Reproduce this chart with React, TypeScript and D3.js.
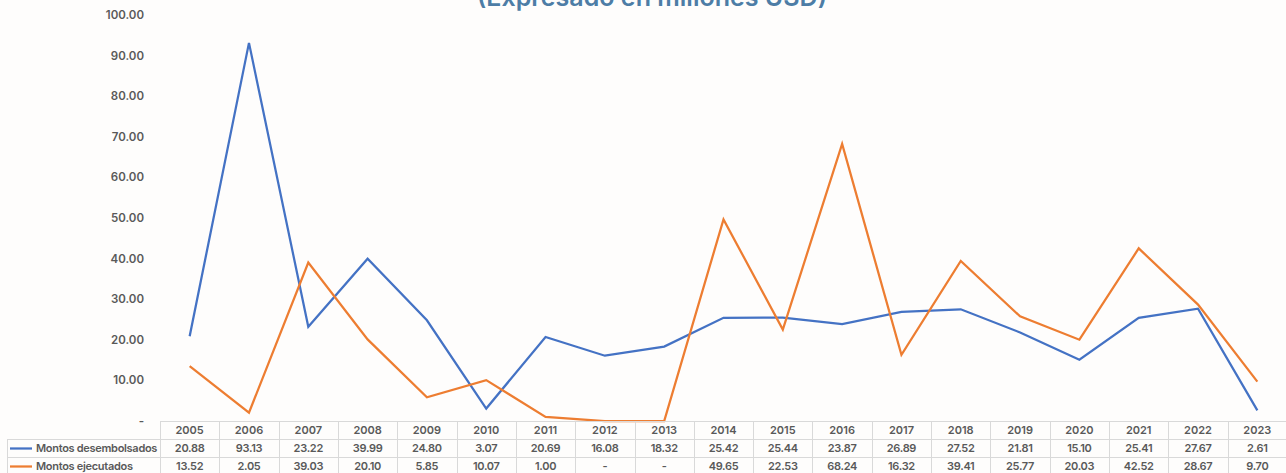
import React from "react";
import * as d3 from "d3";

const years = ["2005","2006","2007","2008","2009","2010","2011","2012","2013","2014","2015","2016","2017","2018","2019","2020","2021","2022","2023"];
const desembolsados = [20.88,93.13,23.22,39.99,24.80,3.07,20.69,16.08,18.32,25.42,25.44,23.87,26.89,27.52,21.81,15.10,25.41,27.67,2.61];
const ejecutados = [13.52,2.05,39.03,20.10,5.85,10.07,1.00,0,0,49.65,22.53,68.24,16.32,39.41,25.77,20.03,42.52,28.67,9.70];
const yTicks = [0,10,20,30,40,50,60,70,80,90,100];
const seriesNames = ["Montos desembolsados","Montos ejecutados"];
const seriesColors = ["#4472C4","#ED7D31"];
const title = "(Expresado en millones USD)";

const W = 1286, H = 473;
const FONT = "Inter, 'Liberation Sans', sans-serif";

export default function App() {
  const x = d3.scaleBand<string>().domain(years).range([160, 1287]).padding(0);
  const bw = x.bandwidth();
  const cx = (y: string) => (x(y) as number) + bw / 2;
  const y = d3.scaleLinear().domain([0, 100]).range([421, 15]);
  const fmt = (v: number) => (v === 0 ? "-" : v.toFixed(2));
  const series = [desembolsados, ejecutados];
  const line = d3.line<number>().x((_, i) => cx(years[i])).y((v) => y(v));
  const tableTop = 421, rowH = 18;
  const rows = [tableTop, tableTop + rowH, tableTop + 2 * rowH];
  const grid = "#d9d9d9";
  const textCol = "#595959";
  return (
    <svg width={W} height={H} style={{ position: "absolute", left: 0, top: 0, background: "#fefdfc" }} fontFamily={FONT}>
      <rect x={0} y={0} width={W} height={H} fill="#fefdfc" />
      <text x={652} y={6} textAnchor="middle" fontSize={25} fontWeight={600} fill="#4d7da6" textLength={350} lengthAdjust="spacingAndGlyphs">{title}</text>
      {yTicks.map((t) => (
        <text key={t} x={144} y={y(t) + 4} textAnchor="end" fontSize={11.5} fontWeight={600} fill={textCol}>
          {t === 0 ? "-" : t.toFixed(2)}
        </text>
      ))}
      {series.map((s, i) => (
        <path key={i} d={line(s) as string} fill="none" stroke={seriesColors[i]} strokeWidth={2.25} strokeLinejoin="miter" />
      ))}
      <g stroke={grid} strokeWidth={1} fill="none">
        <line x1={160} x2={1287} y1={rows[0] + 0.5} y2={rows[0] + 0.5} />
        <line x1={7} x2={1287} y1={rows[1] + 0.5} y2={rows[1] + 0.5} />
        <line x1={7} x2={1287} y1={rows[2] + 0.5} y2={rows[2] + 0.5} />
        <line x1={7.5} x2={7.5} y1={rows[1]} y2={H} />
        {years.map((yr) => (
          <line key={yr} x1={Math.round(x(yr) as number) + 0.5} x2={Math.round(x(yr) as number) + 0.5} y1={rows[0]} y2={H} />
        ))}
      </g>
      {years.map((yr) => (
        <text key={yr} x={cx(yr)} y={rows[0] + 13} textAnchor="middle" fontSize={11} fontWeight={600} fill={textCol}>{yr}</text>
      ))}
      {series.map((s, i) => (
        <g key={i}>
          <line x1={10} x2={32} y1={rows[1 + i] + 9.5} y2={rows[1 + i] + 9.5} stroke={seriesColors[i]} strokeWidth={2.25} />
          <text x={36} y={rows[1 + i] + 13} fontSize={11} fontWeight={600} fill={textCol} letterSpacing={-0.3}>{seriesNames[i]}</text>
          {s.map((v, j) => (
            <text key={j} x={cx(years[j])} y={rows[1 + i] + 13} textAnchor="middle" fontSize={11} fontWeight={600} fill={textCol} letterSpacing={-0.3}>{fmt(v)}</text>
          ))}
        </g>
      ))}
    </svg>
  );
}
